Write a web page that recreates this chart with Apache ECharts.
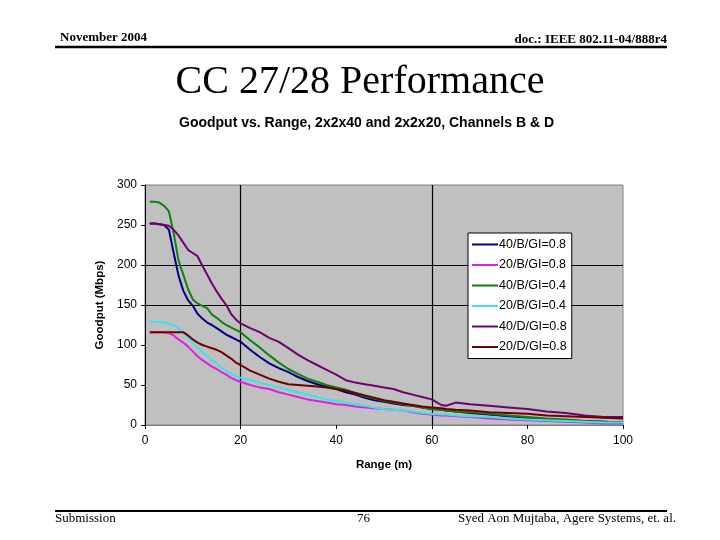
<!DOCTYPE html>
<html>
<head>
<meta charset="utf-8">
<script src="https://cdn.jsdelivr.net/npm/echarts@6/dist/echarts.min.js"></script>
<style>html,body{margin:0;padding:0;background:#fff}#c{width:720px;height:540px}</style>
</head>
<body>
<div id="c"></div>
<script>
const rangeM = [1,2,3,4,5,6,7,8,9,10,11,12,13,14,15,16,17,18,19,20,22,24,26,28,30,32,34,36,38,40,42,44,46,48,50,52,54,56,58,60,62,63,65,68,72,76,80,84,88,92,96,100];
const b40gi08 = [252,252,251,250,244,215,187,168,156,149,139,133,128,125,121,117,113,110,107,104,94,85,77,71,66,60,55,51,48,45,41,38,34,31,29,27,25,24,22,20,19,18,17,15,13,11,9,7,6,5,4,3];
const b20gi08 = [116,116,116,116,115,112,107,103,98,92,86,81,77,73,70,66,63,59,56,54,50,47,45,41,38,35,32,30,28,26,25,23,22,21,20,19,18,16,14,13,12,12,11,10,8,7,6,5,4,3,2,2];
const b40gi04 = [279,279,278,274,267,240,206,188,170,157,152,149,146,138,134,129,125,122,119,116,106,97,87,78,70,64,58,54,50,47,44,40,36,33,30,28,26,24,22,20,19,18,17,16,14,12,10,8,7,5,4,3];
const b20gi04 = [129,129,129,128,127,125,121,115,109,103,97,91,86,81,77,72,68,64,61,59,56,53,50,47,44,41,38,35,32,30,28,26,24,22,20,19,18,17,15,14,13,13,12,11,10,8,7,6,5,4,3,3];
const d40gi08 = [252,252,251,250,249,244,237,228,219,215,211,199,188,177,167,158,150,139,132,127,121,116,109,104,96,88,81,75,69,63,56,53,51,49,47,45,41,38,35,32,25,24,28,26,24,22,20,17,15,12,10,10];
const d20gi08 = [116,116,116,116,116,116,116,116,112,107,103,100,98,96,94,91,87,83,78,75,68,63,58,54,51,50,49,48,47,45,43,40,37,34,31,29,27,25,23,22,21,20,19,18,16,15,14,12,11,10,9,8];
const seriesNames = ['40/B/GI=0.8','20/B/GI=0.8','40/B/GI=0.4','20/B/GI=0.4','40/D/GI=0.8','20/D/GI=0.8'];
const seriesValues = [b40gi08,b20gi08,b40gi04,b20gi04,d40gi08,d20gi08];
const seriesColors = ['#000080','#E020E0','#108010','#40E0E8','#700070','#700000'];
const yTicks = [0,50,100,150,200,250,300];
const xTicks = [0,20,40,60,80,100];
const refY = [150,200];
const refX = [20,60];

const chart = echarts.init(document.getElementById('c'), null, {renderer:'canvas'});
const sans = 'Liberation Sans';
const serif = 'Liberation Serif';

const series = seriesNames.map((n,i)=>({
  name:n, type:'line', showSymbol:false, symbol:'none',
  data: rangeM.map((x,j)=>[x, seriesValues[i][j]]),
  lineStyle:{color:seriesColors[i], width:2},
  itemStyle:{color:seriesColors[i]},
  z: 3, animation:false
}));
series.unshift({
  name:'ref', type:'line', data:[], z:2, silent:true, animation:false,
  markLine:{symbol:'none', silent:true, label:{show:false}, animation:false, z:1,
    lineStyle:{color:'#000', width:1.2, type:'solid'},
    data: refY.map(v=>({yAxis:v})).concat(refX.map(v=>({xAxis:v})))}
});

chart.setOption({
  animation:false,
  backgroundColor:'#fff',
  title:{text:'Goodput vs. Range, 2x2x40 and 2x2x20, Channels B & D', left:174, top:111,
    textStyle:{fontFamily:sans, fontSize:14, fontWeight:'bold', color:'#000'}},
  grid:{left:145, right:97, top:185, bottom:115, show:true, backgroundColor:'#c0c0c0', borderColor:'#808080', borderWidth:1},
  legend:{data:seriesNames, orient:'vertical', left:468, top:233, icon:'rect', itemWidth:26, itemHeight:2, itemGap:7.5, z:20,
    backgroundColor:'#fff', borderColor:'#000', borderWidth:1, padding:[5,5,5,4],
    textStyle:{fontFamily:sans, fontSize:12.5, color:'#000', padding:[0,0,0,-4]}},
  xAxis:{type:'value', min:0, max:100, interval:20, name:'Range (m)', nameLocation:'middle', nameGap:34,
    nameTextStyle:{fontFamily:sans, fontSize:11.5, fontWeight:'bold', color:'#000'},
    axisLine:{show:true, lineStyle:{color:'#808080'}}, axisTick:{show:true, length:4, lineStyle:{color:'#000'}},
    splitLine:{show:false},
    axisLabel:{fontFamily:sans, fontSize:12, color:'#000', margin:10}},
  yAxis:{type:'value', min:0, max:300, interval:50, name:'Goodput (Mbps)', nameLocation:'middle', nameGap:38,
    nameTextStyle:{fontFamily:sans, fontSize:11.5, fontWeight:'bold', color:'#000'},
    axisLine:{show:true, lineStyle:{color:'#000'}}, axisTick:{show:true, length:4, lineStyle:{color:'#000'}},
    splitLine:{show:false},
    axisLabel:{fontFamily:sans, fontSize:12, color:'#000', margin:8}},
  graphic:[
    {type:'text', left:60, top:31, style:{text:'November 2004', font:'bold 13px '+serif, fill:'#000'}},
    {type:'text', right:53, top:33, style:{text:'doc.: IEEE 802.11-04/888r4', font:'bold 13px '+serif, fill:'#000'}},
    {type:'line', shape:{x1:55,y1:47,x2:667,y2:47}, style:{stroke:'#000', lineWidth:2.5}},
    {type:'text', left:'center', top:62, style:{text:'CC 27/28 Performance', font:'40px '+serif, fill:'#000'}},
    {type:'line', shape:{x1:55,y1:511,x2:667,y2:511}, style:{stroke:'#000', lineWidth:2}},
    {type:'text', left:55, top:512, style:{text:'Submission', font:'13px '+serif, fill:'#000'}},
    {type:'text', left:357, top:512, style:{text:'76', font:'13px '+serif, fill:'#000'}},
    {type:'text', right:44, top:512, style:{text:'Syed Aon Mujtaba, Agere Systems, et. al.', font:'13px '+serif, fill:'#000'}}
  ],
  series: series
});
</script>
</body>
</html>
